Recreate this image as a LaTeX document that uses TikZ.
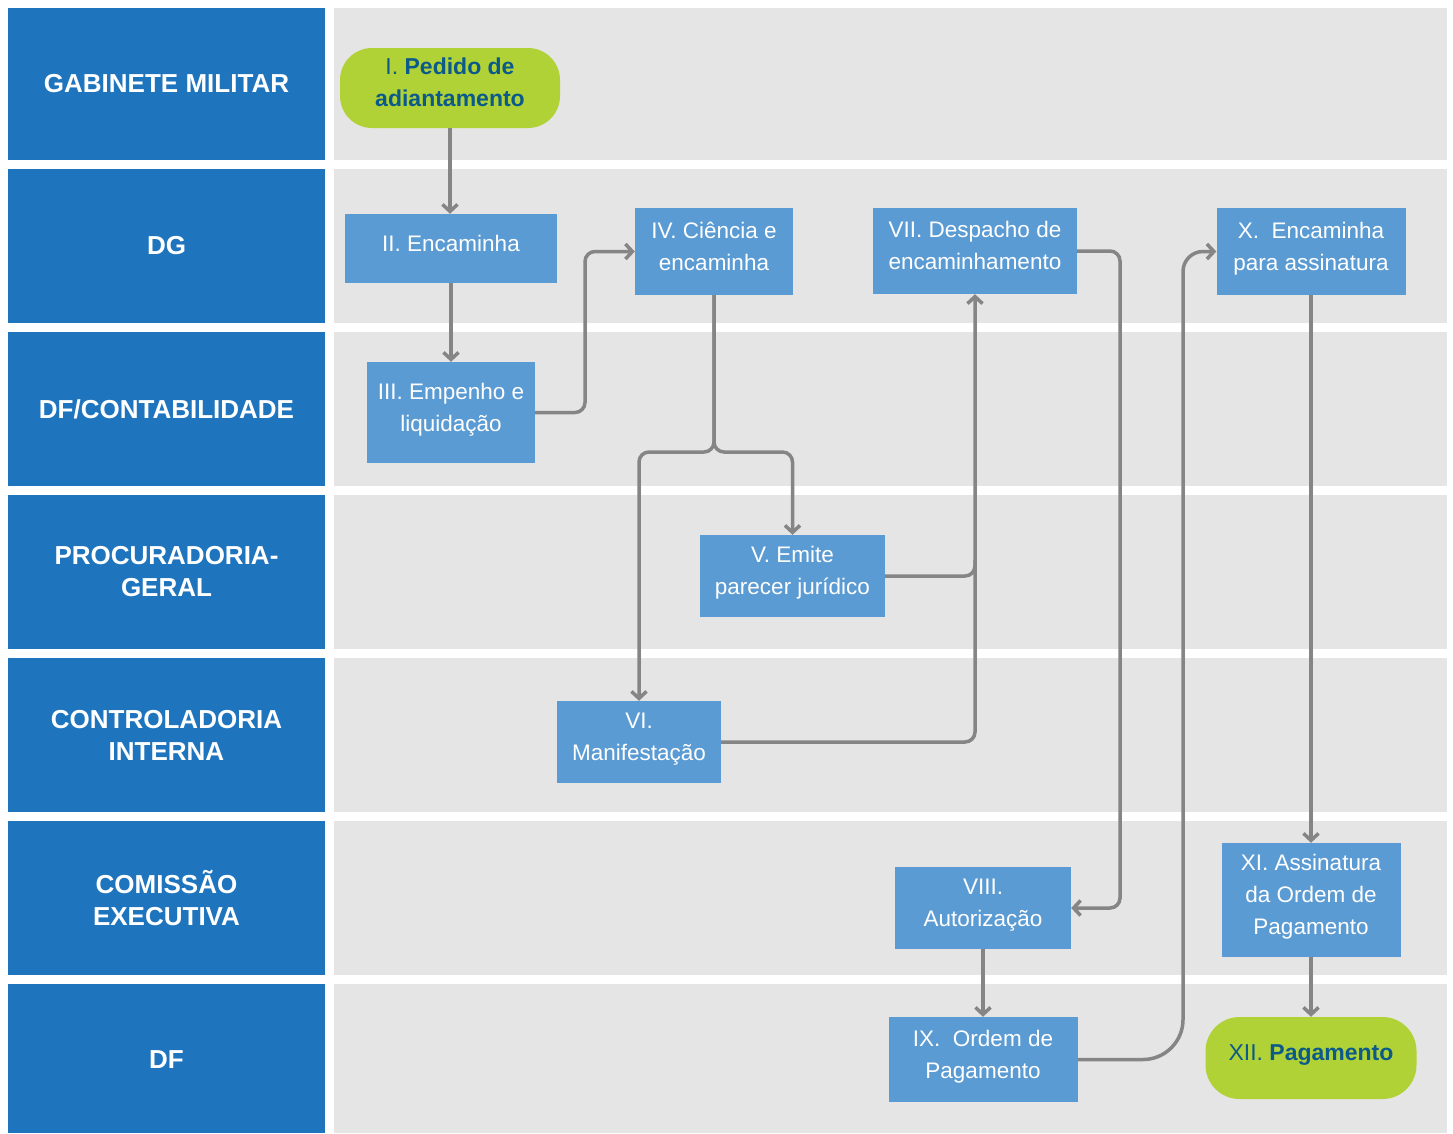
\documentclass[tikz,border=0pt]{standalone}
\usepackage{fontspec}
\setmainfont{Liberation Sans}
\usetikzlibrary{arrows.meta}
\definecolor{hdr}{HTML}{1F74BE}
\definecolor{lane}{HTML}{E5E5E5}
\definecolor{boxc}{HTML}{5B9BD3}
\definecolor{grn}{HTML}{B0D236}
\definecolor{dtxt}{HTML}{0B5A8A}
\definecolor{arrc}{HTML}{858585}
\tikzset{
  hdrtext/.style={text=white, inner sep=0pt, align=center,
    font=\fontsize{26}{32}\selectfont\bfseries},
  stepbox/.style={fill=boxc, text=white, inner sep=0pt, align=center, text depth=11pt,
    font=\fontsize{22.5}{32}\selectfont},
  termbox/.style={fill=grn, text=dtxt, inner sep=0pt, align=center, text depth=11pt,
    font=\fontsize{23}{32}\selectfont},
  arr/.style={draw=arrc, line width=3.5pt, rounded corners=10pt,
    -{Straight Barb[length=7pt,width=15pt,line width=3.5pt]}},
  plainarr/.style={draw=arrc, line width=3.5pt, rounded corners=10pt},
}
\begin{document}
\begin{tikzpicture}[x=1pt,y=-1pt]
\useasboundingbox[fill=white] (0,0) rectangle (1453,1133);
% lanes
\foreach \a/\b in {8/160, 169/323, 332/486, 495/649, 658/812, 821/975, 984/1133}{
  \fill[lane] (334,\a) rectangle (1447,\b);
  \fill[hdr] (8,\a) rectangle (325,\b);
}
\node[hdrtext] (h1) at (166.5,84) {GABINETE MILITAR};
\node[hdrtext] (h2) at (166.5,246) {DG};
\node[hdrtext] (h3) at (166.5,409) {DF/CONTABILIDADE};
\node[hdrtext] (h4) at (166.5,572) {PROCURADORIA-\\GERAL};
\node[hdrtext] (h5) at (166.5,735) {CONTROLADORIA\\INTERNA};
\node[hdrtext] (h6) at (166.5,898) {COMISSÃO\\EXECUTIVA};
\node[hdrtext] (h7) at (166.5,1060) {DF};
% steps
\node[termbox, minimum width=220pt, minimum height=80pt, rounded corners=32pt] (I) at (450,88)
  {I. \textbf{Pedido de}\\\textbf{adiantamento}};
\node[stepbox, minimum width=212pt, minimum height=69pt] (II) at (451,248.5) {II. Encaminha};
\node[stepbox, minimum width=168pt, minimum height=101pt] (III) at (451,412.5) {III. Empenho e\\liquidação};
\node[stepbox, minimum width=158pt, minimum height=87pt] (IV) at (714,251.5) {IV. Ciência e\\encaminha};
\node[stepbox, minimum width=185pt, minimum height=82pt] (V) at (792.5,576) {V. Emite\\parecer jurídico};
\node[stepbox, minimum width=164pt, minimum height=82pt] (VI) at (639,742) {VI.\\Manifestação};
\node[stepbox, minimum width=204pt, minimum height=86pt] (VII) at (975,251) {VII. Despacho de\\encaminhamento};
\node[stepbox, minimum width=176pt, minimum height=82pt] (VIII) at (983,908) {VIII.\\Autorização};
\node[stepbox, minimum width=189pt, minimum height=85pt] (IX) at (983,1059.5) {IX.~ Ordem de\\Pagamento};
\node[stepbox, minimum width=189pt, minimum height=87pt] (X) at (1311,251.5) {X.~ Encaminha\\para assinatura};
\node[stepbox, minimum width=179pt, minimum height=114pt] (XI) at (1311,900) {XI. Assinatura\\da Ordem de\\Pagamento};
\node[termbox, minimum width=211pt, minimum height=82pt, rounded corners=34pt] (XII) at (1311,1058)
  {XII. \textbf{Pagamento}};
% connectors
\draw[arr] (I.south) -- (I.south |- II.north);
\draw[arr] (II.south) -- (III.north);
\draw[arr] (III.east) -- (585,412.5) -- (585,251.5) -- (IV.west);
\draw[arr] (IV.south) -- (714,452) -| (VI.north);
\draw[arr] (IV.south) -- (714,452) -| (V.north);
\draw[plainarr] (VI.east) -| (975,560);
\draw[arr] (V.east) -| (VII.south);
\draw[arr] (VII.east) -- (1120,251) |- (VIII.east);
\draw[arr] (VIII.south) -- (IX.north);
\draw[arr] (IX.east) [rounded corners=40pt] -- (1183,1059.5) [rounded corners=20pt] -- (1183,251.5) -- (X.west);
\draw[arr] (X.south) -- (XI.north);
\draw[arr] (XI.south) -- (XII.north);
\end{tikzpicture}
\end{document}
